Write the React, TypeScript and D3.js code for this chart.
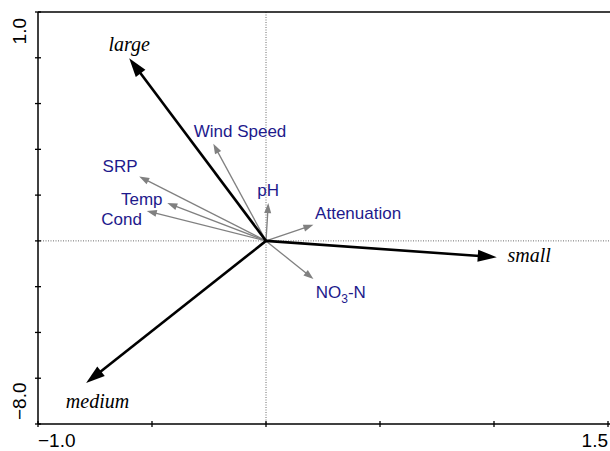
import { scaleLinear } from 'd3'

const speciesNames = ['large', 'small', 'medium']
const speciesX = [-0.6, 1.012, -0.789]
const speciesY = [0.798, -0.071, -0.621]
const speciesLabelX = [-0.6, 1.154, -0.739]
const speciesLabelY = [0.86, -0.061, -0.699]

const envNames = ['Wind Speed', 'SRP', 'Temp', 'Cond', 'pH', 'Attenuation', 'NO3-N']
const envX = [-0.231, -0.556, -0.433, -0.523, 0.01, 0.208, 0.208]
const envY = [0.424, 0.281, 0.165, 0.131, 0.165, 0.07, -0.167]
const envLabelX = [-0.114, -0.64, -0.545, -0.633, 0.009, 0.404, 0.328]
const envLabelY = [0.48, 0.329, 0.183, 0.096, 0.22, 0.121, -0.223]

const xTicks = [-1.0, -0.5, 0, 0.5, 1.0, 1.5]
const yTicks = [-0.8, -0.6, -0.4, -0.2, 0, 0.2, 0.4, 0.6, 0.8, 1.0]
const xTickLabels = ['\u22121.0', '1.5']
const yTickLabels = ['1.0', '\u22128.0']

const width = 610
const height = 451
const plot = { left: 38, right: 608, top: 12, bottom: 424 }

const sansFont = '"Liberation Sans", Arial, sans-serif'
const serifFont = '"Liberation Serif", "Times New Roman", serif'
const labelBlue = '#1e1a8c'
const envGrey = '#808080'

type ArrowProps = {
  x0: number
  y0: number
  x1: number
  y1: number
  color: string
  strokeWidth: number
  headLength: number
  headWidth: number
}

function Arrow({ x0, y0, x1, y1, color, strokeWidth, headLength, headWidth }: ArrowProps) {
  const dx = x1 - x0
  const dy = y1 - y0
  const len = Math.hypot(dx, dy)
  const ux = dx / len
  const uy = dy / len
  const bx = x1 - ux * headLength
  const by = y1 - uy * headLength
  const px = -uy * (headWidth / 2)
  const py = ux * (headWidth / 2)
  const points = `${x1},${y1} ${bx + px},${by + py} ${bx - px},${by - py}`

  return (
    <g>
      <line
        x1={x0}
        y1={y0}
        x2={bx + ux * 2}
        y2={by + uy * 2}
        stroke={color}
        strokeWidth={strokeWidth}
      />
      <polygon points={points} fill={color} />
    </g>
  )
}

function App() {
  const xScale = scaleLinear().domain([-1.0, 1.5]).range([plot.left, plot.right])
  const yScale = scaleLinear().domain([-0.8, 1.0]).range([plot.bottom, plot.top])

  const ox = xScale(0)
  const oy = yScale(0)

  return (
    <svg
      width={width}
      height={height}
      viewBox={`0 0 ${width} ${height}`}
      style={{ position: 'absolute', left: 0, top: 0, background: '#fff' }}
    >
      {/* zero reference lines */}
      <line
        x1={plot.left}
        x2={width}
        y1={oy}
        y2={oy}
        stroke="#444"
        strokeWidth={0.8}
        strokeDasharray="1 1.5"
      />
      <line
        x1={ox}
        x2={ox}
        y1={plot.top}
        y2={plot.bottom}
        stroke="#444"
        strokeWidth={0.8}
        strokeDasharray="1 1.5"
      />

      {/* frame */}
      <line x1={plot.left} x2={width} y1={plot.top} y2={plot.top} stroke="#000" strokeWidth={1.5} />
      <line x1={plot.left} x2={plot.left} y1={plot.top} y2={plot.bottom} stroke="#000" strokeWidth={1.5} />
      <line x1={plot.left} x2={width} y1={plot.bottom} y2={plot.bottom} stroke="#000" strokeWidth={1.5} />

      {xTicks.map((tick) => (
        <line
          key={`xt-${tick}`}
          x1={xScale(tick)}
          x2={xScale(tick)}
          y1={plot.bottom - 3}
          y2={plot.bottom + 3}
          stroke="#000"
          strokeWidth={1.3}
        />
      ))}
      {yTicks.map((tick) => (
        <line
          key={`yt-${tick}`}
          x1={plot.left - 3}
          x2={plot.left + 3}
          y1={yScale(tick)}
          y2={yScale(tick)}
          stroke="#000"
          strokeWidth={1.3}
        />
      ))}

      <text
        x={xScale(xTicks[0])}
        y={447}
        fontFamily={sansFont}
        fontSize={19}
        textAnchor="start"
      >
        {xTickLabels[0]}
      </text>
      <text
        x={xScale(xTicks[xTicks.length - 1])}
        y={447}
        fontFamily={sansFont}
        fontSize={19}
        textAnchor="end"
      >
        {xTickLabels[1]}
      </text>

      <text
        transform={`translate(26, ${yScale(yTicks[yTicks.length - 1]) + 6}) rotate(-90)`}
        fontFamily={sansFont}
        fontSize={19}
        textAnchor="end"
      >
        {yTickLabels[0]}
      </text>
      <text
        transform={`translate(26, ${yScale(yTicks[0]) - 4}) rotate(-90)`}
        fontFamily={sansFont}
        fontSize={19}
        textAnchor="start"
      >
        {yTickLabels[1]}
      </text>

      {/* environmental vectors */}
      {envNames.map((name, i) => (
        <Arrow
          key={`env-${name}`}
          x0={ox}
          y0={oy}
          x1={xScale(envX[i])}
          y1={yScale(envY[i])}
          color={envGrey}
          strokeWidth={1.3}
          headLength={10}
          headWidth={7}
        />
      ))}

      {/* species vectors */}
      {speciesNames.map((name, i) => (
        <Arrow
          key={`sp-${name}`}
          x0={ox}
          y0={oy}
          x1={xScale(speciesX[i])}
          y1={yScale(speciesY[i])}
          color="#000"
          strokeWidth={2.6}
          headLength={19}
          headWidth={12}
        />
      ))}

      {envNames.map((name, i) => (
        <text
          key={`envl-${name}`}
          x={xScale(envLabelX[i])}
          y={yScale(envLabelY[i])}
          dy="0.35em"
          fontFamily={sansFont}
          fontSize={17}
          fill={labelBlue}
          textAnchor="middle"
        >
          {name === 'NO3-N' ? (
            <>
              NO
              <tspan fontSize={12} dy={5}>
                3
              </tspan>
              <tspan dy={-5}>-N</tspan>
            </>
          ) : (
            name
          )}
        </text>
      ))}

      {speciesNames.map((name, i) => (
        <text
          key={`spl-${name}`}
          x={xScale(speciesLabelX[i])}
          y={yScale(speciesLabelY[i])}
          dy="0.35em"
          fontFamily={serifFont}
          fontStyle="italic"
          fontSize={20}
          fill="#000"
          textAnchor="middle"
        >
          {name}
        </text>
      ))}
    </svg>
  )
}

export default App
